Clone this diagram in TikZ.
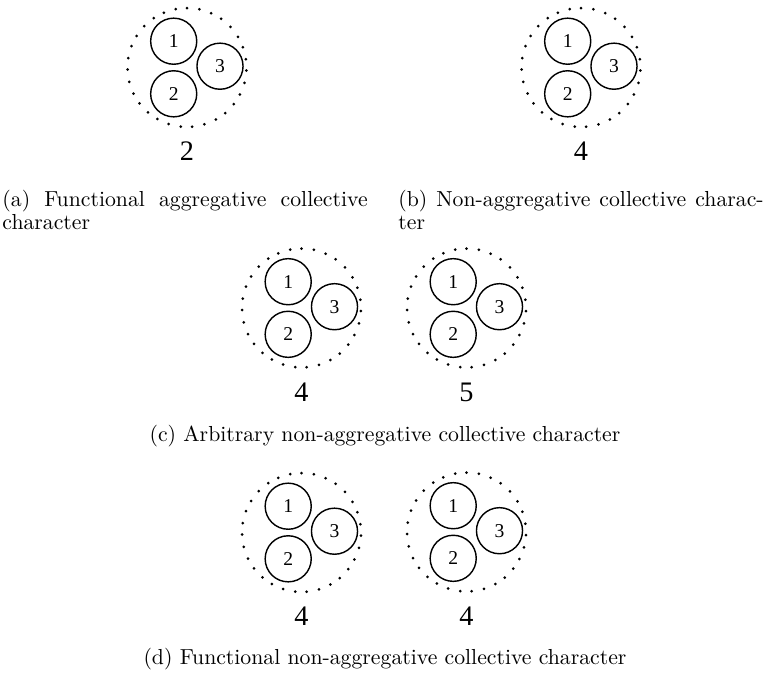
\documentclass[tikz,border=0pt]{standalone}
\usepackage{fontspec}
\newfontfamily\digfont{Liberation Serif}
\setmainfont{Latin Modern Roman}
\begin{document}
\begin{tikzpicture}[x=0.46pt,y=-0.46pt,
  member/.style={circle,draw,line width=0.65pt,minimum size=21.2pt,inner sep=0pt,font=\digfont\fontsize{9}{9}\selectfont},
  ring/.style={circle,minimum size=54.7pt,inner sep=0pt,outer sep=0pt},
  count/.style={font=\digfont\fontsize{13}{13}\selectfont,inner sep=0pt},
  caption/.style={inner sep=0pt,font=\fontsize{10}{10.4}\selectfont}]
\useasboundingbox (0,0) rectangle (764,678);
\newcommand\collgroup[4]{%
  \begin{scope}[shift={(#2,#3)}]
    \node[ring] (#1-ring) at (0,0) {};
    \foreach \k [evaluate=\k as \a using \k*360/31+90] in {0,...,30}
      {\fill (#1-ring.\a) circle[radius=1.5];}
    \node[member] (#1-m1) at (-13.3,-26.3) {1};
    \node[member] (#1-m2) at (-13.3,26.3) {2};
    \node[member] (#1-m3) at (33,-1.3) {3};
    \node[count] (#1-lab) at (0,84) {#4};
  \end{scope}}
\collgroup{a}{187}{67.5}{2}
\collgroup{b}{581}{67.5}{4}
\collgroup{c1}{301.5}{308}{4}
\collgroup{c2}{466.5}{308}{5}
\collgroup{d1}{301.5}{532.5}{4}
\collgroup{d2}{466.5}{532}{4}
\node[caption,anchor=base west] (capa) at (2,206.7)
  {\parbox[t]{168pt}{(a) Functional aggregative collective\linebreak character}};
\node[caption,anchor=base west] (capb) at (398,206.7)
  {\parbox[t]{168pt}{(b) Non-aggregative collective charac-\linebreak ter}};
\node[caption,anchor=base] (capc) at (385,441) {(c) Arbitrary non-aggregative collective character};
\node[caption,anchor=base] (capd) at (385,664) {(d) Functional non-aggregative collective character};
\end{tikzpicture}
\end{document}
